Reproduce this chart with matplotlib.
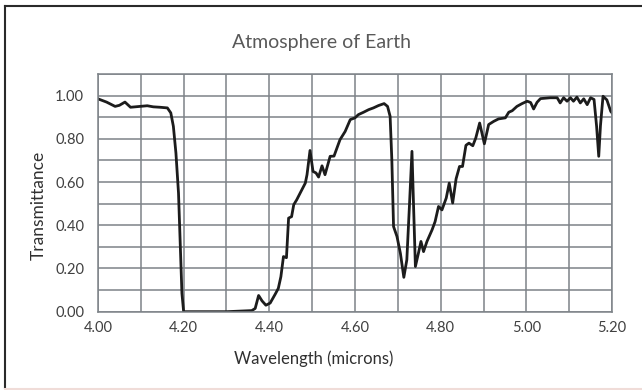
import matplotlib
matplotlib.use("Agg")
import matplotlib.pyplot as plt
from matplotlib.lines import Line2D
import numpy as np

# Transmittance
wavelength = [
    4.000, 4.020, 4.040, 4.050, 4.063, 4.076, 4.098, 4.115, 4.129, 4.145,
    4.162, 4.170, 4.176, 4.182, 4.188, 4.192, 4.196, 4.200, 4.250, 4.300,
    4.359, 4.367, 4.375, 4.383, 4.392, 4.402, 4.414, 4.421, 4.427, 4.433,
    4.440, 4.445, 4.452, 4.457, 4.464, 4.472, 4.484, 4.488, 4.495, 4.502,
    4.509, 4.515, 4.523, 4.530, 4.542, 4.551, 4.565, 4.577, 4.589, 4.600,
    4.608, 4.620, 4.632, 4.643, 4.655, 4.668, 4.676, 4.682, 4.686, 4.690,
    4.698, 4.706, 4.714, 4.721, 4.727, 4.733, 4.737, 4.741, 4.748, 4.754,
    4.760, 4.768, 4.780, 4.787, 4.795, 4.803, 4.813, 4.820, 4.828, 4.836,
    4.844, 4.851, 4.859, 4.866, 4.875, 4.882, 4.891, 4.902, 4.912, 4.924,
    4.935, 4.951, 4.959, 4.967, 4.978, 4.990, 5.002, 5.010, 5.017, 5.025,
    5.033, 5.056, 5.072, 5.079, 5.087, 5.095, 5.103, 5.110, 5.118, 5.126,
    5.134, 5.142, 5.150, 5.158, 5.164, 5.169, 5.173, 5.179, 5.188, 5.197,
    5.200,
]
transmittance = [
    0.985, 0.970, 0.950, 0.955, 0.970, 0.946, 0.950, 0.953, 0.948, 0.946,
    0.943, 0.920, 0.858, 0.734, 0.549, 0.317, 0.085, 0.000, 0.000, 0.000,
    0.005, 0.015, 0.075, 0.050, 0.030, 0.040, 0.082, 0.108, 0.162, 0.255,
    0.250, 0.433, 0.440, 0.495, 0.518, 0.549, 0.595, 0.634, 0.746, 0.649,
    0.642, 0.623, 0.675, 0.634, 0.719, 0.720, 0.796, 0.834, 0.889, 0.897,
    0.912, 0.923, 0.935, 0.943, 0.954, 0.963, 0.950, 0.904, 0.703, 0.394,
    0.348, 0.270, 0.159, 0.240, 0.487, 0.742, 0.471, 0.209, 0.270, 0.325,
    0.278, 0.325, 0.379, 0.417, 0.487, 0.471, 0.526, 0.595, 0.503, 0.615,
    0.672, 0.672, 0.770, 0.780, 0.768, 0.804, 0.873, 0.777, 0.866, 0.881,
    0.892, 0.897, 0.923, 0.930, 0.950, 0.963, 0.974, 0.968, 0.938, 0.969,
    0.986, 0.990, 0.990, 0.966, 0.990, 0.974, 0.990, 0.974, 0.993, 0.966,
    0.985, 0.958, 0.990, 0.982, 0.858, 0.719, 0.860, 0.997, 0.980, 0.927,
    0.920,
]

x_ticks = [4.0, 4.2, 4.4, 4.6, 4.8, 5.0, 5.2]
y_ticks = [0.0, 0.2, 0.4, 0.6, 0.8, 1.0]

plt.rcParams['font.family'] = ['Lato', 'DejaVu Sans']

fig = plt.figure(figsize=(6.42, 3.90), dpi=100)
ax = fig.add_axes([0.1526, 0.2008, 0.8007, 0.6095])

grid_color = '#7d8388'
ax.set_xlim(4.0, 5.2)
ax.set_ylim(0.0, 1.1)
ax.set_xticks(np.arange(4.0, 5.21, 0.1), minor=True)
ax.set_yticks(np.arange(0.0, 1.11, 0.1), minor=True)
ax.set_xticks(x_ticks)
ax.set_yticks(y_ticks)
ax.set_xticklabels([f"{v:.2f}" for v in x_ticks])
ax.set_yticklabels([f"{v:.2f}" for v in y_ticks])
ax.grid(True, which='both', color=grid_color, lw=1.1)
ax.set_axisbelow(True)
ax.tick_params(which='both', length=0, labelsize=10.5, colors='#404040')
ax.tick_params(axis='y', pad=10)
ax.tick_params(axis='x', pad=7)
for s in ax.spines.values():
    s.set_color(grid_color)
    s.set_linewidth(1.1)

ax.plot(wavelength, transmittance, color='#1c1c1c', lw=2.0)

fig.text(0.5, 0.892, 'Atmosphere of Earth', ha='center', va='center',
         fontsize=14, color='#595959')
fig.text(0.489, 0.079, 'Wavelength (microns)', ha='center', va='center',
         fontsize=12, color='#303030')
fig.text(0.060, 0.474, 'Transmittance', ha='center', va='center',
         rotation=90, fontsize=12.5, color='#303030')

# chart border
fig.add_artist(Line2D([5/642, 5/642], [2/390, 1 - 6/390], color='#2a2a2a', lw=1.5))
fig.add_artist(Line2D([5/642, 1], [1 - 6/390, 1 - 6/390], color='#2a2a2a', lw=1.5))
fig.add_artist(Line2D([5/642, 1], [1/390, 1/390], color='#f0dcd8', lw=1.5))

fig.savefig('out.png', dpi=100)
